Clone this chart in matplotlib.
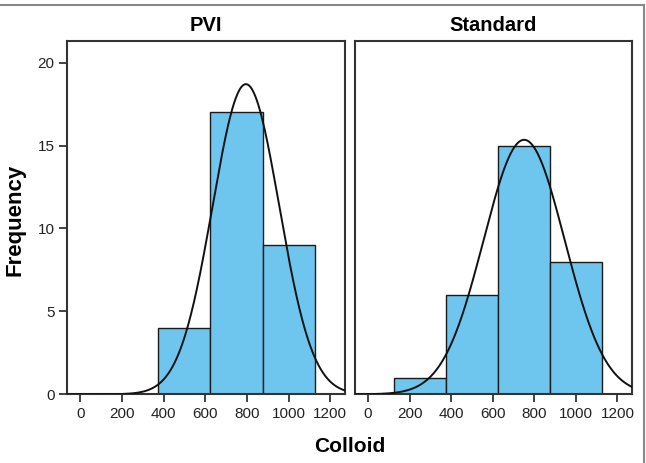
import numpy as np
import matplotlib.pyplot as plt
from matplotlib.lines import Line2D

plt.rcParams['font.family'] = ['Liberation Sans', 'DejaVu Sans']

# histogram data
bin_edges = [125, 375, 625, 875, 1125]
pvi_counts = [0, 4, 17, 9]
std_counts = [1, 6, 15, 8]

# normal curve parameters (mean, sd) estimated from the curves
pvi_mean, pvi_sd = 795, 160
std_mean, std_sd = 751, 195

panels = ["PVI", "Standard"]
x_ticks = [0, 200, 400, 600, 800, 1000, 1200]
y_ticks = [0, 5, 10, 15, 20]

bar_color = '#6ec6ee'

fig = plt.figure(figsize=(6.46, 4.63), dpi=100)
ax1 = fig.add_axes([0.1037, 0.1484, 0.4303, 0.763])
ax2 = fig.add_axes([0.5495, 0.1484, 0.4288, 0.763])


def draw(ax, counts, mean, sd, title, show_y):
    edges = np.array(bin_edges)
    widths = np.diff(edges)
    for left, w, c in zip(edges[:-1], widths, counts):
        if c > 0:
            ax.bar(left, c, width=w, align='edge', color=bar_color,
                   edgecolor='#1a1a1a', linewidth=1.0, zorder=2)
    n = sum(counts)
    bw = widths[0]
    xs = np.linspace(-63, 1270, 500)
    ys = n * bw / (sd * np.sqrt(2 * np.pi)) * np.exp(-0.5 * ((xs - mean) / sd) ** 2)
    ax.plot(xs, ys, color='#111111', linewidth=1.4, zorder=3)
    ax.set_xlim(-63, 1270)
    ax.set_ylim(0, 21.3)
    ax.set_xticks(x_ticks)
    ax.set_yticks(y_ticks)
    ax.tick_params(direction='out', length=6, width=1.2, labelsize=11,
                   color='#222222', labelcolor='#222222', pad=3)
    if not show_y:
        ax.tick_params(axis='y', left=False, labelleft=False)
    for s in ax.spines.values():
        s.set_linewidth(1.5)
        s.set_color('#333333')
    ax.set_title(title, fontsize=14.5, fontweight='bold', pad=7)


draw(ax1, pvi_counts, pvi_mean, pvi_sd, panels[0], True)
draw(ax2, std_counts, std_mean, std_sd, panels[1], False)

fig.text(0.023, 0.526, "Frequency", rotation=90, fontsize=16, fontweight='bold',
         ha='center', va='center')
fig.text(0.541, 0.036, "Colloid", fontsize=15, fontweight='bold',
         ha='center', va='center')

# frame lines at top and right of the image
fig.add_artist(Line2D([0, 0.997], [0.989, 0.989], color='#888888', linewidth=1.5))
fig.add_artist(Line2D([0.997, 0.997], [0, 0.989], color='#888888', linewidth=1.5))

fig.savefig('out.png', dpi=100)
